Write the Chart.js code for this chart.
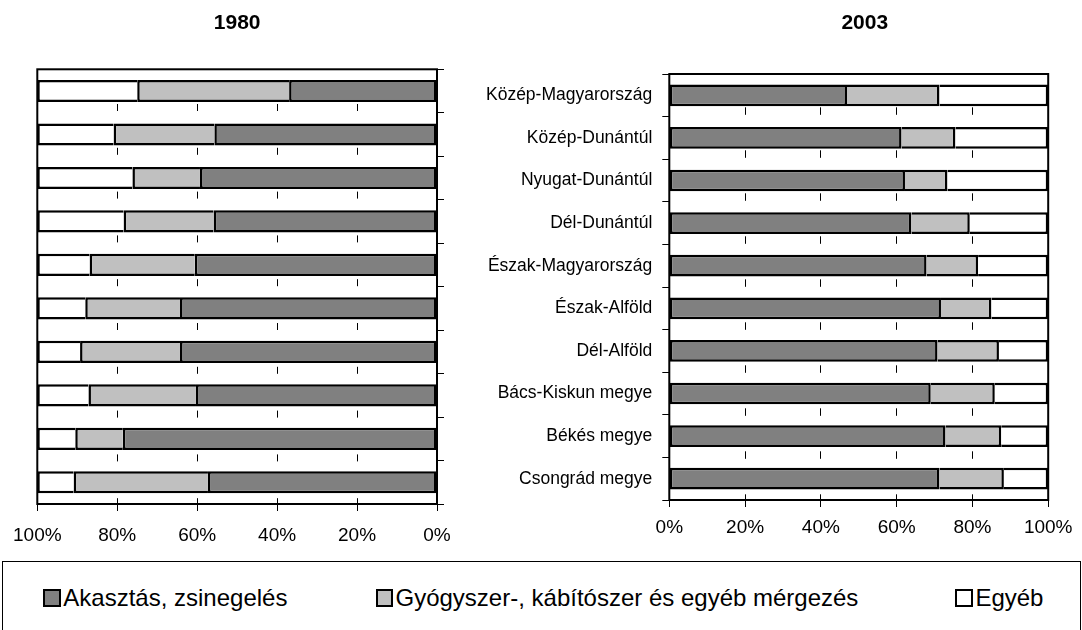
<!DOCTYPE html>
<html>
<head>
<meta charset="utf-8">
<script src="https://cdn.jsdelivr.net/npm/chart.js@4.4.1/dist/chart.umd.min.js"></script>
<style>
  body { margin: 0; background: #fff; width: 1082px; height: 630px; overflow: hidden; position: relative;
         font-family: "Liberation Sans", Arial, sans-serif; }
  canvas { position: absolute; top: 0; }
  #left { left: 0; }
  #right { left: 470px; }
  #legend { position: absolute; left: 2px; top: 561px; width: 1077px; height: 100px; border: 1px solid #000; }
  .item { position: absolute; top: 24.4px; font-size: 24px; line-height: 24px; white-space: nowrap; padding-left: 20px; }
  .box { position: absolute; left: 0; top: 2.6px; width: 13.7px; height: 13.7px; border: 2px solid #000; }
</style>
</head>
<body>
<canvas id="left" width="480" height="560"></canvas>
<canvas id="right" width="612" height="560"></canvas>
<div id="legend"></div>
<script>
// regions, top to bottom
const categories = ['Közép-Magyarország', 'Közép-Dunántúl', 'Nyugat-Dunántúl', 'Dél-Dunántúl',
  'Észak-Magyarország', 'Észak-Alföld', 'Dél-Alföld', 'Bács-Kiskun megye', 'Békés megye', 'Csongrád megye'];
const years = ['1980', '2003'];
const seriesNames = ['Akasztás, zsinegelés', 'Gyógyszer-, kábítószer és egyéb mérgezés', 'Egyéb'];
const seriesColors = ['#808080', '#C0C0C0', '#FFFFFF'];

// shares in percent
const hanging1980 = [37.0, 55.7, 59.3, 55.9, 60.6, 64.3, 64.3, 60.3, 78.6, 57.3];
const poison1980  = [38.0, 25.2, 16.9, 22.5, 26.3, 23.7, 25.0, 26.9, 11.9, 33.6];
const other1980   = [25.0, 19.1, 23.8, 21.6, 13.1, 12.0, 10.7, 12.8,  9.5,  9.1];

const hanging2003 = [46.9, 61.3, 62.2, 63.9, 67.9, 71.7, 70.8, 69.0, 72.9, 71.3];
const poison2003  = [24.4, 14.2, 11.2, 15.4, 13.6, 13.3, 16.2, 16.9, 14.7, 17.0];
const other2003   = [28.7, 24.5, 26.6, 20.7, 18.5, 15.0, 13.0, 14.1, 12.4, 11.7];

Chart.defaults.font.family = '"Liberation Sans", Arial, sans-serif';
Chart.defaults.color = '#000';

// frame round the plot area and the year above it
const frameAndTitle = {
  id: 'frameAndTitle',
  afterDatasetsDraw(chart, args, opts) {
    const { ctx, chartArea: a } = chart;
    ctx.save();
    ctx.strokeStyle = '#000';
    ctx.lineWidth = 2;
    ctx.strokeRect(a.left, a.top, a.right - a.left, a.bottom - a.top);
    ctx.font = 'bold 21px "Liberation Sans", Arial, sans-serif';
    ctx.textAlign = 'center';
    ctx.textBaseline = 'middle';
    ctx.fillStyle = '#000';
    ctx.fillText(opts.text, (a.left + a.right) / 2 + (opts.dx || 0), 23);
    ctx.restore();
  }
};

function makeDatasets(series) {
  return series.map((values, i) => ({
    label: seriesNames[i],
    data: values,
    backgroundColor: seriesColors[i],
    borderColor: '#000',
    borderWidth: 2.5,
    borderSkipped: i === 0 ? false : 'start',
    barPercentage: 0.51,
    categoryPercentage: 1
  }));
}

function makeChart(id, series, year, opt) {
  return new Chart(document.getElementById(id), {
    type: 'bar',
    data: { labels: categories, datasets: makeDatasets(series) },
    options: {
      indexAxis: 'y',
      responsive: false,
      animation: false,
      devicePixelRatio: 1,
      layout: { padding: opt.padding },
      scales: {
        x: {
          type: 'linear', stacked: true, min: 0, max: 100, reverse: opt.reverse,
          ticks: { stepSize: 20, callback: v => v + '%', font: { size: 19 }, padding: opt.tickPad, maxRotation: 0 },
          grid: { color: '#000', lineWidth: 1, tickLength: 7, tickColor: '#000', tickBorderDash: [] },
          border: { display: false, dash: opt.dash, dashOffset: opt.dashOffset },
          afterFit(s) { s.height = opt.xHeight; }
        },
        y: {
          type: 'category', stacked: true, position: opt.yPos, offset: true,
          grid: { drawOnChartArea: false, drawTicks: true, tickLength: 7, color: '#000', offset: true },
          border: { display: false },
          ticks: { display: opt.yLabels, font: { size: 17.5 }, padding: 10 },
          afterFit(s) { s.width = opt.yWidth; }
        }
      },
      plugins: {
        legend: { display: false },
        tooltip: { enabled: false },
        frameAndTitle: { text: year, dx: opt.titleDx }
      }
    },
    plugins: [frameAndTitle]
  });
}

makeChart('left', [hanging1980, poison1980, other1980], years[0], {
  padding: { left: 37, right: 33, top: 69.3, bottom: 0 },
  reverse: true, yPos: 'right', yLabels: false, yWidth: 10, xHeight: 56,
  tickPad: 13, dash: [7, 36.8], dashOffset: 9.1, titleDx: 0
});

makeChart('right', [hanging2003, poison2003, other2003], years[1], {
  padding: { left: 0, right: 27, top: 74, bottom: 0 },
  reverse: false, yPos: 'left', yLabels: true, yWidth: 199.3, xHeight: 60,
  tickPad: 9.5, dash: [7.5, 35.5], dashOffset: 9.7, titleDx: 6
});

// legend shared by the two charts
const legendLeft = [43.3, 375.5, 955.4];
const legend = document.getElementById('legend');
seriesNames.forEach((name, i) => {
  const item = document.createElement('div');
  item.className = 'item';
  item.style.left = (legendLeft[i] - 3) + 'px';
  item.innerHTML = '<span class="box" style="background:' + seriesColors[i] + '"></span>' + name;
  legend.appendChild(item);
});
</script>
</body>
</html>
